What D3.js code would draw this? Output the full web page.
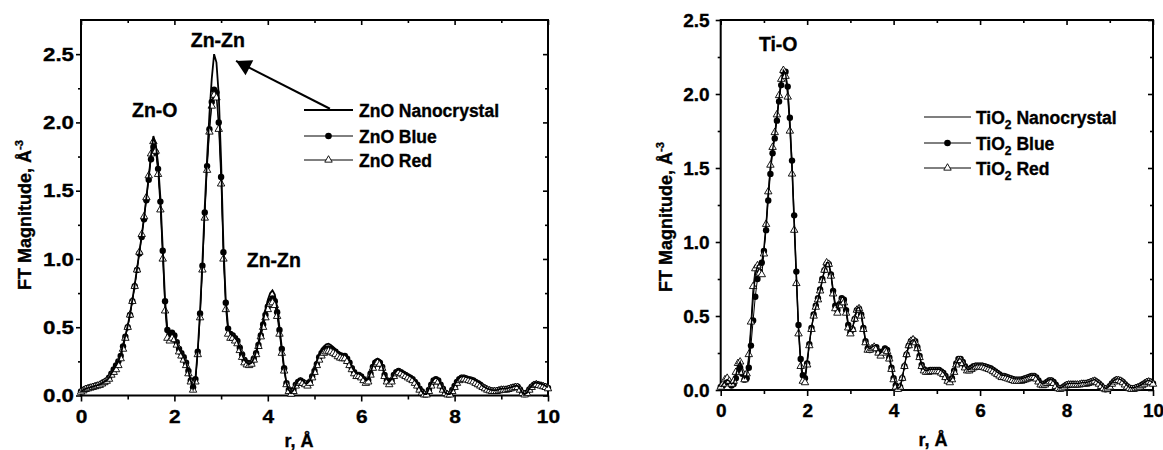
<!DOCTYPE html>
<html><head><meta charset="utf-8">
<script src="https://cdn.jsdelivr.net/npm/d3@7"></script>
<style>
html,body{margin:0;padding:0;background:#fff;}
text{font-family:"Liberation Sans",Arial,Helvetica,sans-serif;font-weight:bold;fill:#000;stroke:#000;stroke-width:0.35px;}
</style></head>
<body><svg id="c" width="1163" height="450"></svg>
<script>
// ---------------- DATA ----------------
const rStep = 0.05; // r grid spacing in Å, r = 0 ... 10
const xMajorTicks = [0, 2, 4, 6, 8, 10];
const xMinorTicks = [1, 3, 5, 7, 9];
const yMajorTicksZnO = [0, 0.5, 1.0, 1.5, 2.0, 2.5];
const yMinorTicksZnO = [0.25, 0.75, 1.25, 1.75, 2.25];
const yMajorTicksTiO = [0, 0.5, 1.0, 1.5, 2.0, 2.5];
const yMinorTicksTiO = [0.25, 0.75, 1.25, 1.75, 2.25];
const znoLegend = ["ZnO Nanocrystal", "ZnO Blue", "ZnO Red"];
const tioLegendMain = ["TiO", "TiO", "TiO"];
const tioLegendRest = [" Nanocrystal", " Blue", " Red"];
const znoAnnotations = [{t:"Zn-O", r:1.58, v:2.04}, {t:"Zn-Zn", r:2.93, v:2.55}, {t:"Zn-Zn", r:4.13, v:0.94}];
const tioAnnotations = [{t:"Ti-O", r:1.33, v:2.29}];

const znoNano = [
0.03,0.04,0.05,0.055,0.06,0.065,0.07,0.075,0.08,0.09,
0.10,0.11,0.13,0.16,0.19,0.22,0.25,0.30,0.37,0.44,
0.51,0.60,0.70,0.81,0.93,1.05,1.17,1.30,1.45,1.60,
1.76,1.90,1.84,1.70,1.45,1.08,0.70,0.48,0.44,0.46,
0.44,0.39,0.34,0.31,0.28,0.24,0.18,0.11,0.05,0.12,
0.33,0.62,0.98,1.38,1.74,2.06,2.32,2.50,2.44,2.20,
1.72,1.10,0.70,0.50,0.45,0.44,0.42,0.40,0.35,0.30,
0.26,0.24,0.23,0.24,0.27,0.32,0.39,0.47,0.55,0.63,
0.70,0.75,0.77,0.74,0.64,0.50,0.35,0.20,0.09,0.04,
0.02,0.04,0.08,0.11,0.12,0.11,0.09,0.09,0.11,0.15,
0.20,0.25,0.30,0.34,0.36,0.375,0.38,0.37,0.355,0.34,
0.32,0.31,0.30,0.30,0.28,0.25,0.21,0.18,0.16,0.16,
0.15,0.13,0.11,0.12,0.17,0.22,0.26,0.27,0.26,0.22,
0.16,0.12,0.10,0.12,0.16,0.18,0.19,0.18,0.17,0.16,
0.15,0.14,0.13,0.11,0.09,0.06,0.03,0.01,0.01,0.05,
0.09,0.12,0.13,0.12,0.09,0.05,0.02,0.01,0.01,0.04,
0.08,0.11,0.13,0.14,0.14,0.135,0.13,0.125,0.12,0.11,
0.10,0.09,0.07,0.06,0.05,0.045,0.04,0.04,0.04,0.045,
0.05,0.05,0.05,0.055,0.06,0.065,0.07,0.07,0.05,0.02,
0.01,0.02,0.05,0.07,0.09,0.095,0.09,0.085,0.08,0.07,
0.06];
const znoBlue = [
0.03,0.04,0.05,0.055,0.06,0.065,0.07,0.075,0.08,0.09,
0.10,0.11,0.13,0.16,0.19,0.22,0.25,0.29,0.36,0.43,
0.50,0.59,0.69,0.80,0.92,1.04,1.16,1.29,1.43,1.58,
1.73,1.82,1.78,1.66,1.42,1.06,0.69,0.48,0.44,0.46,
0.44,0.39,0.34,0.31,0.28,0.24,0.18,0.11,0.06,0.12,
0.32,0.60,0.95,1.34,1.68,1.95,2.15,2.24,2.22,2.00,
1.60,1.05,0.68,0.49,0.45,0.44,0.42,0.40,0.35,0.30,
0.26,0.24,0.23,0.24,0.27,0.31,0.37,0.44,0.52,0.59,
0.65,0.69,0.71,0.69,0.61,0.48,0.34,0.20,0.09,0.04,
0.02,0.04,0.08,0.10,0.11,0.10,0.09,0.08,0.10,0.14,
0.18,0.23,0.28,0.31,0.33,0.34,0.345,0.34,0.33,0.32,
0.305,0.295,0.29,0.29,0.27,0.24,0.20,0.17,0.15,0.15,
0.14,0.12,0.10,0.11,0.16,0.21,0.24,0.25,0.24,0.21,
0.15,0.11,0.09,0.11,0.15,0.17,0.18,0.17,0.16,0.15,
0.14,0.13,0.12,0.10,0.08,0.05,0.03,0.01,0.01,0.04,
0.08,0.11,0.12,0.11,0.08,0.05,0.02,0.01,0.01,0.04,
0.07,0.10,0.12,0.13,0.13,0.125,0.12,0.115,0.11,0.10,
0.09,0.08,0.065,0.055,0.045,0.04,0.035,0.035,0.035,0.04,
0.045,0.045,0.045,0.05,0.055,0.06,0.065,0.065,0.045,0.02,
0.01,0.02,0.045,0.065,0.08,0.085,0.08,0.075,0.07,0.065,
0.055];
const znoRed = [
0.025,0.035,0.045,0.05,0.055,0.06,0.065,0.07,0.075,0.085,
0.095,0.105,0.12,0.15,0.17,0.19,0.22,0.27,0.34,0.42,
0.50,0.59,0.69,0.80,0.92,1.05,1.18,1.31,1.45,1.61,
1.77,1.86,1.79,1.62,1.36,1.00,0.62,0.42,0.40,0.42,
0.41,0.37,0.32,0.29,0.26,0.22,0.16,0.10,0.04,0.10,
0.30,0.57,0.92,1.30,1.65,1.93,2.12,2.20,2.18,1.95,
1.55,1.00,0.63,0.45,0.42,0.42,0.40,0.38,0.33,0.28,
0.24,0.225,0.22,0.23,0.26,0.30,0.36,0.43,0.50,0.57,
0.63,0.67,0.68,0.66,0.58,0.45,0.31,0.18,0.08,0.03,
0.01,0.03,0.07,0.09,0.10,0.09,0.08,0.07,0.09,0.13,
0.17,0.22,0.26,0.29,0.31,0.32,0.325,0.32,0.31,0.30,
0.285,0.275,0.27,0.27,0.25,0.22,0.19,0.16,0.14,0.14,
0.13,0.11,0.09,0.10,0.15,0.20,0.23,0.24,0.23,0.20,
0.14,0.10,0.08,0.10,0.14,0.16,0.17,0.16,0.15,0.14,
0.13,0.12,0.11,0.09,0.07,0.04,0.02,0.005,0.005,0.03,
0.07,0.10,0.11,0.10,0.07,0.04,0.015,0.005,0.005,0.03,
0.06,0.09,0.11,0.12,0.12,0.115,0.11,0.105,0.10,0.09,
0.08,0.07,0.06,0.05,0.04,0.035,0.03,0.03,0.03,0.035,
0.04,0.04,0.04,0.045,0.05,0.055,0.06,0.06,0.04,0.015,
0.005,0.015,0.04,0.06,0.075,0.08,0.075,0.07,0.065,0.06,
0.05];
const tioNano = [
0.02,0.04,0.06,0.07,0.06,0.04,0.05,0.10,0.16,0.19,
0.13,0.08,0.10,0.20,0.40,0.62,0.78,0.84,0.85,0.86,
0.96,1.12,1.32,1.50,1.62,1.72,1.84,1.97,2.08,2.16,
2.14,2.02,1.80,1.52,1.15,0.78,0.42,0.20,0.09,0.09,
0.20,0.32,0.42,0.50,0.56,0.61,0.67,0.74,0.81,0.86,
0.86,0.79,0.68,0.58,0.55,0.59,0.63,0.62,0.55,0.45,
0.40,0.42,0.49,0.55,0.56,0.52,0.43,0.34,0.29,0.28,
0.29,0.30,0.30,0.27,0.25,0.27,0.29,0.28,0.23,0.16,
0.09,0.04,0.01,0.02,0.08,0.16,0.24,0.30,0.33,0.34,
0.33,0.29,0.23,0.17,0.14,0.13,0.135,0.14,0.14,0.14,
0.14,0.14,0.13,0.12,0.10,0.07,0.06,0.08,0.13,0.18,
0.21,0.21,0.19,0.16,0.14,0.14,0.15,0.16,0.17,0.17,
0.17,0.17,0.165,0.16,0.155,0.15,0.14,0.13,0.12,0.11,
0.10,0.10,0.095,0.09,0.085,0.08,0.075,0.075,0.075,0.075,
0.08,0.085,0.09,0.095,0.10,0.10,0.09,0.07,0.05,0.045,
0.05,0.06,0.07,0.07,0.06,0.04,0.02,0.015,0.02,0.03,
0.04,0.045,0.045,0.045,0.045,0.045,0.045,0.05,0.05,0.05,
0.055,0.06,0.065,0.07,0.06,0.05,0.035,0.02,0.01,0.015,
0.03,0.05,0.065,0.075,0.075,0.07,0.06,0.045,0.03,0.02,
0.015,0.015,0.02,0.025,0.03,0.04,0.05,0.06,0.065,0.06,
0.05];
const tioBlue = [
0.02,0.03,0.05,0.06,0.05,0.03,0.04,0.08,0.13,0.15,
0.11,0.07,0.08,0.15,0.30,0.47,0.63,0.75,0.80,0.86,
0.94,1.08,1.28,1.46,1.60,1.70,1.82,1.95,2.06,2.15,
2.15,2.05,1.84,1.55,1.18,0.80,0.44,0.21,0.10,0.08,
0.18,0.31,0.42,0.51,0.57,0.62,0.68,0.75,0.81,0.85,
0.85,0.78,0.67,0.57,0.54,0.58,0.62,0.61,0.54,0.44,
0.39,0.41,0.48,0.54,0.55,0.51,0.42,0.33,0.28,0.27,
0.28,0.29,0.29,0.26,0.24,0.26,0.28,0.27,0.22,0.15,
0.08,0.03,0.01,0.02,0.08,0.16,0.24,0.30,0.33,0.34,
0.33,0.29,0.23,0.17,0.14,0.13,0.13,0.135,0.135,0.135,
0.135,0.135,0.125,0.115,0.095,0.07,0.06,0.08,0.13,0.18,
0.21,0.21,0.19,0.16,0.14,0.14,0.15,0.16,0.165,0.165,
0.165,0.165,0.16,0.155,0.15,0.145,0.135,0.125,0.115,0.105,
0.095,0.095,0.09,0.085,0.08,0.075,0.07,0.07,0.07,0.07,
0.075,0.08,0.085,0.09,0.095,0.095,0.085,0.065,0.045,0.04,
0.045,0.055,0.065,0.065,0.055,0.035,0.015,0.01,0.015,0.025,
0.035,0.04,0.04,0.04,0.04,0.04,0.04,0.045,0.045,0.045,
0.05,0.055,0.06,0.065,0.055,0.045,0.03,0.015,0.005,0.01,
0.025,0.045,0.06,0.07,0.07,0.065,0.055,0.04,0.025,0.015,
0.01,0.01,0.015,0.02,0.025,0.035,0.045,0.055,0.06,0.055,
0.045];
const tioRed = [
0.02,0.04,0.07,0.08,0.06,0.04,0.06,0.12,0.18,0.19,
0.12,0.07,0.11,0.24,0.46,0.70,0.82,0.84,0.79,0.78,
0.92,1.12,1.34,1.52,1.64,1.74,1.86,1.99,2.10,2.16,
2.12,1.98,1.75,1.46,1.08,0.72,0.38,0.16,0.06,0.05,
0.17,0.30,0.41,0.50,0.56,0.61,0.67,0.74,0.81,0.86,
0.85,0.77,0.65,0.55,0.52,0.57,0.61,0.59,0.52,0.42,
0.38,0.41,0.48,0.54,0.55,0.50,0.41,0.32,0.27,0.27,
0.28,0.29,0.28,0.25,0.23,0.25,0.27,0.26,0.21,0.14,
0.07,0.02,0.005,0.02,0.08,0.16,0.24,0.30,0.33,0.34,
0.32,0.28,0.22,0.16,0.13,0.12,0.12,0.125,0.125,0.125,
0.125,0.125,0.115,0.105,0.085,0.06,0.05,0.07,0.12,0.17,
0.20,0.20,0.18,0.15,0.13,0.13,0.14,0.15,0.155,0.155,
0.155,0.155,0.15,0.145,0.14,0.135,0.125,0.115,0.105,0.095,
0.085,0.085,0.08,0.075,0.07,0.065,0.06,0.06,0.06,0.06,
0.065,0.07,0.075,0.08,0.085,0.085,0.075,0.055,0.035,0.03,
0.035,0.045,0.055,0.055,0.045,0.025,0.01,0.005,0.01,0.02,
0.03,0.035,0.035,0.035,0.035,0.035,0.035,0.04,0.04,0.04,
0.045,0.05,0.055,0.06,0.05,0.04,0.025,0.01,0.003,0.008,
0.02,0.04,0.055,0.065,0.065,0.06,0.05,0.035,0.02,0.01,
0.005,0.005,0.01,0.015,0.02,0.03,0.04,0.05,0.055,0.05,
0.04];

// ---------------- DRAWING ----------------
const svg = d3.select("#c");
const toPts = arr => arr.map((v, i) => [i * rStep, v]);

function drawChart(o) {
  const x = d3.scaleLinear().domain([0, 10]).range([o.x0, o.x1]);
  const y = d3.scaleLinear().domain([0, o.yMax]).range([o.yBot, o.yTop]);
  const g = svg.append("g");

  // axes
  const fs = o.tickFont;
  const bottom = g.append("g").attr("transform", `translate(0,${o.yBot})`)
    .call(d3.axisBottom(x).tickValues(xMajorTicks).tickSize(6).tickPadding(o.xPad).tickFormat(d3.format("d")));
  g.append("g").attr("transform", `translate(0,${o.yBot})`)
    .call(d3.axisBottom(x).tickValues(xMinorTicks).tickSize(4).tickFormat(""));
  const left = g.append("g").attr("transform", `translate(${o.x0},0)`)
    .call(d3.axisLeft(y).tickValues(o.yMajor).tickSize(5).tickPadding(o.yPad).tickFormat(d3.format(".1f")));
  g.append("g").attr("transform", `translate(${o.x0},0)`)
    .call(d3.axisLeft(y).tickValues(o.yMinor).tickSize(3).tickFormat(""));
  g.append("g").attr("transform", `translate(0,${o.yTop})`)
    .call(d3.axisTop(x).tickValues(xMajorTicks).tickSize(-5).tickFormat(""));
  g.append("g").attr("transform", `translate(0,${o.yTop})`)
    .call(d3.axisTop(x).tickValues(xMinorTicks).tickSize(-3).tickFormat(""));
  g.append("g").attr("transform", `translate(${o.x1},0)`)
    .call(d3.axisRight(y).tickValues(o.yMajor).tickSize(-5).tickFormat(""));
  g.append("g").attr("transform", `translate(${o.x1},0)`)
    .call(d3.axisRight(y).tickValues(o.yMinor).tickSize(-3).tickFormat(""));
  g.selectAll(".domain").remove();
  g.selectAll(".tick line").attr("stroke", "#000").attr("stroke-width", 1.6);
  g.selectAll(".tick text").style("font-size", fs + "px").style("font-weight", "bold")
    .style("font-family", '"Liberation Sans",Arial,sans-serif').attr("fill", "#000");
  if (o.yTextLen) left.selectAll(".tick text").attr("textLength", o.yTextLen).attr("lengthAdjust", "spacingAndGlyphs");
  if (o.xTextScale) bottom.selectAll(".tick text").attr("transform", `scale(${o.xTextScale},1)`);

  g.append("rect").attr("x", o.x0).attr("y", o.yTop).attr("width", o.x1 - o.x0).attr("height", o.yBot - o.yTop)
    .attr("fill", "none").attr("stroke", "#000").attr("stroke-width", 2);

  // series
  const line = d3.line().x(d => x(d[0])).y(d => y(d[1]));
  const blue = toPts(o.blue), red = toPts(o.red), nano = toPts(o.nano);
  g.append("path").attr("d", line(blue)).attr("fill", "none").attr("stroke", "#000").attr("stroke-width", 1);
  g.selectAll(null).data(blue).enter().append("circle")
    .attr("cx", d => x(d[0])).attr("cy", d => y(d[1])).attr("r", 3.2).attr("fill", "#000");
  g.append("path").attr("d", line(red)).attr("fill", "none").attr("stroke", "#000").attr("stroke-width", 1);
  const tri = d3.symbol().type(d3.symbolTriangle).size(24);
  g.selectAll(null).data(red).enter().append("path").attr("d", tri)
    .attr("transform", d => `translate(${x(d[0])},${y(d[1])})`)
    .attr("fill", "#fff").attr("stroke", "#000").attr("stroke-width", 0.9);
  g.append("path").attr("d", line(nano)).attr("fill", "none").attr("stroke", "#000").attr("stroke-width", o.nanoWidth);

  // axis titles
  const yt = g.append("text").attr("transform", `translate(${o.yTitleX},${o.yTitleY}) rotate(-90)`)
    .attr("text-anchor", "middle").style("font-size", o.titleFont + "px");
  yt.append("tspan").text("FT Magnitude, Å");
  yt.append("tspan").text("-3").style("font-size", (o.titleFont * 0.62) + "px").attr("dy", -8);
  g.append("text").attr("x", o.xTitleX).attr("y", o.xTitleY).attr("text-anchor", "middle")
    .style("font-size", o.titleFont + "px").text("r, Å");

  // annotations
  o.ann.forEach(a => {
    g.append("text").attr("x", x(a.r)).attr("y", y(a.v)).attr("text-anchor", "middle")
      .style("font-size", o.annFont + "px").text(a.t);
  });

  // legend
  o.legendY.forEach((ly, i) => {
    g.append("line").attr("x1", o.legX0).attr("x2", o.legX1).attr("y1", ly).attr("y2", ly)
      .attr("stroke", "#000").attr("stroke-width", i === 0 ? o.legNanoW : 1);
    const mx = (o.legX0 + o.legX1) / 2;
    if (i === 1) g.append("circle").attr("cx", mx).attr("cy", ly).attr("r", 3.3).attr("fill", "#000");
    if (i === 2) g.append("path").attr("d", tri).attr("transform", `translate(${mx},${ly})`)
      .attr("fill", "#fff").attr("stroke", "#000").attr("stroke-width", 0.9);
    const t = g.append("text").attr("x", o.legTextX).attr("y", ly + 6.5).style("font-size", o.legFont + "px");
    if (o.legendSub) {
      t.append("tspan").text(o.legendMain[i]);
      t.append("tspan").text("2").style("font-size", "12px").attr("dy", 5);
      t.append("tspan").text(o.legendRest[i]).attr("dy", -5);
    } else {
      t.text(o.legendMain[i]);
    }
  });

  return {x, y, g};
}

const L = drawChart({
  x0: 81, x1: 548, yTop: 20, yBot: 395.5, yMax: 2.75,
  yMajor: yMajorTicksZnO, yMinor: yMinorTicksZnO,
  tickFont: 19, xPad: 8, yPad: 2, yTextLen: 31, xTextScale: 1.1,
  nano: znoNano, blue: znoBlue, red: znoRed, nanoWidth: 1.8,
  yTitleX: 31, yTitleY: 215, xTitleX: 299, xTitleY: 447, titleFont: 18,
  ann: znoAnnotations, annFont: 19.5,
  legendY: [110, 136, 160], legX0: 304, legX1: 353, legTextX: 359, legFont: 17.5, legNanoW: 2,
  legendMain: znoLegend
});

// arrow from the legend towards the Zn-Zn peak
{
  const {x, y, g} = L;
  const tail = [x(5.33), y(2.10)], tip = [x(3.32), y(2.45)];
  g.append("line").attr("x1", tail[0]).attr("y1", tail[1]).attr("x2", tip[0]).attr("y2", tip[1])
    .attr("stroke", "#000").attr("stroke-width", 2);
  const dx = tip[0] - tail[0], dy = tip[1] - tail[1], len = Math.hypot(dx, dy);
  const ux = dx / len, uy = dy / len, hl = 15, hw = 8.5;
  const bx = tip[0] - ux * hl, by = tip[1] - uy * hl;
  g.append("path").attr("d", `M${tip[0]},${tip[1]}L${bx - uy * hw},${by + ux * hw}L${bx + uy * hw},${by - ux * hw}Z`)
    .attr("fill", "#000");
}

drawChart({
  x0: 720.7, x1: 1153, yTop: 20, yBot: 390, yMax: 2.5,
  yMajor: yMajorTicksTiO, yMinor: yMinorTicksTiO,
  tickFont: 19, xPad: 8, yPad: 6,
  nano: tioNano, blue: tioBlue, red: tioRed, nanoWidth: 1.4,
  yTitleX: 672, yTitleY: 217, xTitleX: 933, xTitleY: 446, titleFont: 18,
  ann: tioAnnotations, annFont: 19.5,
  legendY: [117, 143, 168], legX0: 924, legX1: 971, legTextX: 976, legFont: 17.5, legNanoW: 1.2,
  legendMain: tioLegendMain, legendRest: tioLegendRest, legendSub: true
});
</script>
</body></html>
